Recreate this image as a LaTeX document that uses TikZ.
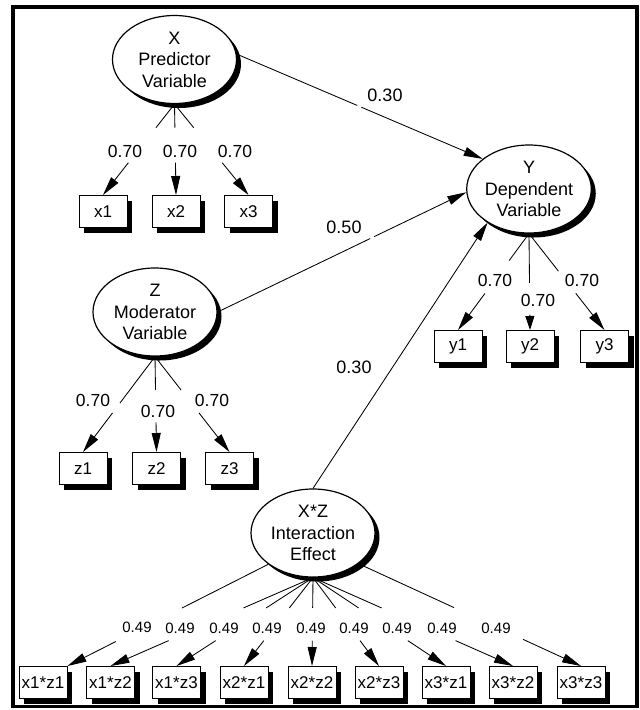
\documentclass[tikz,border=0pt]{standalone}
\usepackage{fontspec}
\setmainfont{Liberation Sans}
\usetikzlibrary{shapes.geometric,shadows,arrows.meta,calc}
\newcommand{\ldg}[4]{%
  \draw[ln] (#1) -- ($(#1)!#3!(#2)$);
  \draw[arr] ($(#1)!#4!(#2)$) -- (#2);}
\begin{document}
\begin{tikzpicture}[x=1pt,y=-1pt,
  lat/.style={ellipse,draw,line width=1.2pt,fill=white,minimum width=124pt,minimum height=88pt,inner sep=0pt,align=center,
    font=\fontsize{18}{21.5}\selectfont,
    drop shadow={shadow xshift=4.5pt,shadow yshift=-4.5pt,fill=black,opacity=1}},
  obs/.style={rectangle,draw,line width=1pt,fill=white,minimum width=48pt,minimum height=32pt,inner sep=0pt,
    font=\fontsize{17}{19}\selectfont,
    drop shadow={shadow xshift=5pt,shadow yshift=-5pt,fill=black,opacity=1}},
  coef/.style={font=\fontsize{17.5}{20}\selectfont,inner sep=0pt},
  coefb/.style={font=\fontsize{18}{20}\selectfont,inner sep=0pt},
  coefs/.style={font=\fontsize{15}{17}\selectfont,inner sep=0pt},
  ln/.style={line width=0.85pt},
  arr/.style={line width=0.85pt,-{Triangle[length=19pt,width=9pt]}},
  arrshort/.style={line width=0.85pt,-{Triangle[length=14pt,width=9pt]}}
]
\useasboundingbox (0,0) rectangle (640,710);
\draw[line width=3.6pt] (13,7) rectangle (637,706.5);

% latent variables
\node[lat] (X) at (174.5,59.5) {X\\Predictor\\Variable};
\node[lat] (Y) at (529,189) {Y\\Dependent\\Variable};
\node[lat] (Z) at (155,312) {Z\\Moderator\\Variable};
\node[lat] (XZ) at (313,533) {X*Z\\Interaction\\Effect};

% indicators
\node[obs] (x1) at (103,211.5) {x1};
\node[obs] (x2) at (176,211.5) {x2};
\node[obs] (x3) at (248.5,211.5) {x3};
\node[obs] (y1) at (458,346.5) {y1};
\node[obs] (y2) at (530,346.5) {y2};
\node[obs] (y3) at (604.5,346.5) {y3};
\node[obs] (z1) at (83,468.5) {z1};
\node[obs] (z2) at (156.5,468.5) {z2};
\node[obs] (z3) at (229.5,468.5) {z3};
\node[obs] (b1) at (43,682.5) {x1*z1};
\node[obs] (b2) at (110.5,682.5) {x1*z2};
\node[obs] (b3) at (176.5,682.5) {x1*z3};
\node[obs] (b4) at (244,682.5) {x2*z1};
\node[obs] (b5) at (312,682.5) {x2*z2};
\node[obs] (b6) at (379,682.5) {x2*z3};
\node[obs] (b7) at (446,682.5) {x3*z1};
\node[obs] (b8) at (513,682.5) {x3*z2};
\node[obs] (b9) at (581,682.5) {x3*z3};

% structural paths
\draw[ln] (X.5) -- ($(X.5)!0.49!(Y.147)$);
\draw[arr] ($(X.5)!0.507!(Y.147)$) -- (Y.147);
\draw[ln] (Z.east) -- ($(Z.east)!0.614!(Y.183)$);
\draw[arr] ($(Z.east)!0.63!(Y.183)$) -- (Y.183);
\draw[arr] (XZ.north) -- (Y.219);
\node[coefb] (cxy) at (385,95) {0.30};
\node[coefb] (czy) at (344,227) {0.50};
\node[coefb] (cxzy) at (354,367) {0.30};

% X loadings
\ldg{X.south}{x1.north}{0.26}{0.645}
\ldg{X.south}{x2.north}{0.26}{0.645}
\ldg{X.south}{x3.north}{0.26}{0.645}
\node[coef] (lx1) at (125,151) {0.70};
\node[coef] (lx2) at (180,151) {0.70};
\node[coef] (lx3) at (235,151) {0.70};

% Y loadings
\ldg{Y.south}{y1.north}{0.28}{0.62}
\draw[ln] (Y.south) -- ($(Y.south)!0.51!(y2.north)$);
\draw[arrshort] ($(Y.south)!0.84!(y2.north)$) -- (y2.north);
\ldg{Y.south}{y3.north}{0.39}{0.62}
\node[coef] (ly1) at (495,280) {0.70};
\node[coef] (ly2) at (538,300) {0.70};
\node[coef] (ly3) at (582,280) {0.70};

% Z loadings
\ldg{Z.south}{z1.north}{0.487}{0.59}
\ldg{Z.south}{z2.north}{0.35}{0.69}
\ldg{Z.south}{z3.north}{0.35}{0.59}
\node[coef] (lz1) at (93,400) {0.70};
\node[coef] (lz2) at (158,411) {0.70};
\node[coef] (lz3) at (212,400) {0.70};

% interaction loadings
\ldg{XZ.215}{b1.north east}{0.43}{0.76}
\ldg{XZ.south}{b2.north}{0.343}{0.713}
\ldg{XZ.south}{b3.north}{0.343}{0.713}
\ldg{XZ.south}{b4.north}{0.343}{0.713}
\ldg{XZ.south}{b5.north}{0.343}{0.713}
\ldg{XZ.south}{b6.north}{0.343}{0.713}
\ldg{XZ.south}{b7.north}{0.343}{0.713}
\ldg{XZ.south}{b8.north}{0.343}{0.713}
\ldg{XZ.326}{b9.north}{0.43}{0.74}
\node[coefs] (lb1) at (137,627) {0.49};
\node[coefs] (lb2) at (180,628) {0.49};
\node[coefs] (lb3) at (224,628) {0.49};
\node[coefs] (lb4) at (267,628) {0.49};
\node[coefs] (lb5) at (311,628) {0.49};
\node[coefs] (lb6) at (354,628) {0.49};
\node[coefs] (lb7) at (397,628) {0.49};
\node[coefs] (lb8) at (442,628) {0.49};
\node[coefs] (lb9) at (496,628) {0.49};
\end{tikzpicture}
\end{document}
